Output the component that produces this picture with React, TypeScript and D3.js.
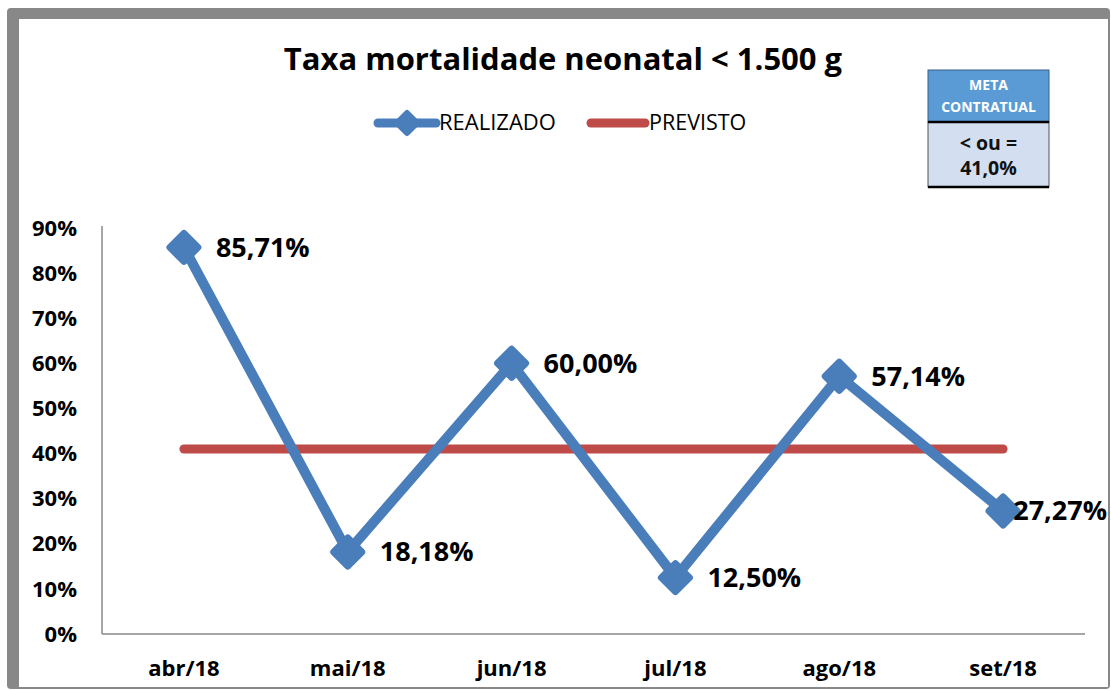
import * as d3 from 'd3';
import React from 'react';

const months = ['abr/18', 'mai/18', 'jun/18', 'jul/18', 'ago/18', 'set/18'];
const realizado = [85.71, 18.18, 60.0, 12.5, 57.14, 27.27];
const previsto = [41, 41, 41, 41, 41, 41];
const yTicks = [0, 10, 20, 30, 40, 50, 60, 70, 80, 90];

const BLUE = '#4a7ebb';
const RED = '#be4b48';
const GRAY = '#888888';
const FONT = '"Open Sans", "DejaVu Sans", sans-serif';

const W = 1111;
const H = 690;
const margin = { top: 228, right: 26, bottom: 56, left: 102 };

const fmt = (v: number) => v.toFixed(2).replace('.', ',') + '%';

const diamond = (r: number) => `M0,${-r}L${r},0L0,${r}L${-r},0Z`;

export default function App() {
  const x = d3
    .scaleBand()
    .domain(months)
    .range([margin.left, W - margin.right]);
  const y = d3.scaleLinear().domain([0, 90]).range([H - margin.bottom, margin.top]);
  const cx = (m: string) => (x(m) ?? 0) + x.bandwidth() / 2;

  const lineGen = d3
    .line<number>()
    .x((_, i) => cx(months[i]))
    .y((d) => y(d));

  const labelLimit = 1107;

  return (
    <svg
      width={W}
      height={H}
      style={{ position: 'absolute', left: 0, top: 0, background: '#fff' }}
      fontFamily={FONT}
    >
      {/* frame */}
      <rect x={7} y={8} width={1103} height={681} fill={GRAY} rx={4} />
      <rect x={19} y={19} width={1089} height={668} fill="#fff" />

      {/* title */}
      <text x={563} y={70} textAnchor="middle" fontSize={31} fontWeight="bold" fill="#000">
        Taxa mortalidade neonatal &lt; 1.500 g
      </text>

      {/* legend */}
      <g>
        <line x1={378} x2={436} y1={123} y2={123} stroke={BLUE} strokeWidth={9} strokeLinecap="round" />
        <path
          d={diamond(10)}
          transform="translate(407,123)"
          fill={BLUE}
          stroke={BLUE}
          strokeWidth={6}
          strokeLinejoin="round"
        />
        <text x={439} y={130} fontSize={22} fill="#000">REALIZADO</text>
        <line x1={591} x2={645} y1={123} y2={123} stroke={RED} strokeWidth={9} strokeLinecap="round" />
        <text x={649} y={130} fontSize={21.5} fill="#000">PREVISTO</text>
      </g>

      {/* meta box */}
      <g>
        <rect x={928} y={70} width={121} height={52} fill="#5b9bd5" stroke="#3a5f8a" strokeWidth={1} />
        <rect x={928} y={122} width={121} height={65} fill="#d3def0" stroke="#555" strokeWidth={1} />
        <line x1={928} x2={1049} y1={122} y2={122} stroke="#000" strokeWidth={2.5} />
        <line x1={928} x2={1049} y1={187} y2={187} stroke="#000" strokeWidth={2.5} />
        <text x={988.5} y={90} textAnchor="middle" fontSize={14} fontWeight="bold" fill="#fff">META</text>
        <text x={988.5} y={112} textAnchor="middle" fontSize={14} fontWeight="bold" fill="#fff">CONTRATUAL</text>
        <text x={988.5} y={150} textAnchor="middle" fontSize={19.5} fontWeight="bold" fill="#111">&lt; ou =</text>
        <text x={988.5} y={175} textAnchor="middle" fontSize={19.5} fontWeight="bold" fill="#111">41,0%</text>
      </g>

      {/* axes */}
      <line x1={margin.left} x2={margin.left} y1={226} y2={y(0)} stroke={GRAY} strokeWidth={1.5} />
      <line x1={margin.left} x2={W - margin.right} y1={y(0)} y2={y(0)} stroke={GRAY} strokeWidth={1.5} />
      {yTicks.map((t) => (
        <text key={t} x={77} y={y(t)} dy="0.35em" textAnchor="end" fontSize={22} fontWeight="bold" fill="#000">
          {t}%
        </text>
      ))}
      {months.map((m) => (
        <text key={m} x={cx(m)} y={668} dy="0.35em" textAnchor="middle" fontSize={22} fontWeight="bold" fill="#000">
          {m}
        </text>
      ))}

      {/* previsto */}
      <path d={lineGen(previsto) ?? ''} fill="none" stroke={RED} strokeWidth={9} strokeLinecap="round" />

      {/* realizado */}
      <path
        d={lineGen(realizado) ?? ''}
        fill="none"
        stroke={BLUE}
        strokeWidth={10}
        strokeLinejoin="round"
      />
      {realizado.map((v, i) => (
        <path
          key={i}
          d={diamond(14)}
          transform={`translate(${cx(months[i])},${y(v)})`}
          fill={BLUE}
          stroke={BLUE}
          strokeWidth={7}
          strokeLinejoin="round"
        />
      ))}
      {realizado.map((v, i) => {
        const px = cx(months[i]) + 32;
        const overflow = px + 98 > labelLimit;
        return (
          <text
            key={i}
            x={overflow ? labelLimit : px}
            y={y(v)}
            dy="0.35em"
            textAnchor={overflow ? 'end' : 'start'}
            fontSize={27}
            fontWeight="bold"
            fill="#000"
          >
            {fmt(v)}
          </text>
        );
      })}
    </svg>
  );
}
